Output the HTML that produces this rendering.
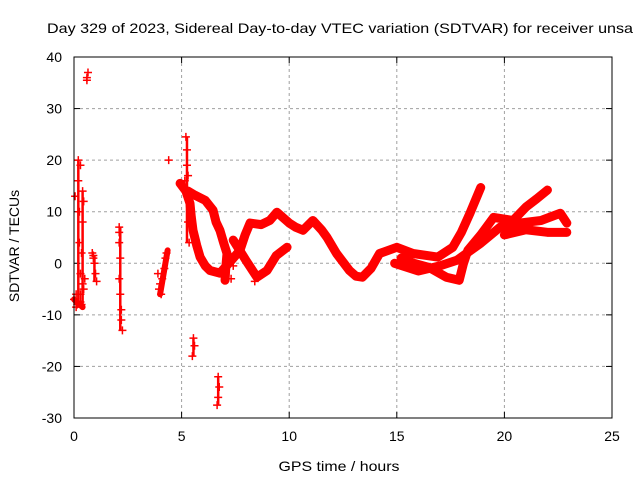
<!DOCTYPE html>
<html><head><meta charset="utf-8"><style>
body{margin:0;background:#fff}
svg text{font-family:"Liberation Sans",sans-serif;font-size:14px;fill:#000}
</style></head><body>
<svg id="c" width="640" height="480" xmlns="http://www.w3.org/2000/svg">
<rect width="640" height="480" fill="#fff"/>
<text x="340" y="33" text-anchor="middle" textLength="586" lengthAdjust="spacingAndGlyphs">Day 329 of 2023, Sidereal Day-to-day VTEC variation (SDTVAR) for receiver unsa</text>
<text x="339" y="471" text-anchor="middle" textLength="121" lengthAdjust="spacingAndGlyphs">GPS time / hours</text>
<text transform="translate(19,246) rotate(-90)" text-anchor="middle">SDTVAR / TECUs</text>
<g id="grid"></g><g id="marks"></g>
<rect x="74" y="57" width="538" height="361" fill="none" stroke="#000" stroke-width="1"/>
</svg>
<script>
const xTicks=[0,5,10,15,20,25];
const yTicks=[-30,-20,-10,0,10,20,30,40];
// continuous tracks [hour, value]
const track1=[[5.3,14],[5.62,13.2],[6.1,12.2],[6.46,10.3],[6.6,8],[6.78,6.4],[6.95,4],[7.11,1.9],[7.05,-1],[7.02,-3.3]];
const track2=[[4.93,15.5],[5.2,14],[5.39,11.6],[5.45,9],[5.53,6.4],[5.7,3.5],[5.86,1.2],[6.1,-0.5],[6.32,-1.4],[6.78,-1.9]];
const track3=[[6.78,-1.9],[7.3,0.5],[7.71,2.5],[7.95,5.5],[8.18,7.8],[8.7,7.5],[9.1,8.3],[9.43,9.9],[10.0,7.8],[10.3,7],[10.64,6.4],[11.1,8.3],[11.5,6.5],[11.76,5.0],[12.2,1.9],[12.8,-1.4],[13.1,-2.5],[13.4,-2.7],[13.8,-1],[14.2,1.9],[15.0,3.1],[15.75,1.9],[16.9,1.2],[17.6,3.1],[18.0,6],[18.4,9.7],[18.9,14.7]];
const track4=[[15.2,1.0],[15.8,0],[16.5,-0.8],[17.3,-2.7],[17.9,-3.3],[18.1,0],[18.3,2.5],[18.9,5.5],[19.5,8.9],[20.4,8.3],[21.0,10.9],[21.5,12.5],[22.0,14.2]];
const track5=[[14.9,0],[16.0,-1.5],[17.0,-0.5],[17.8,0.6],[18.9,3.9],[19.8,7.0],[20.7,7.8],[21.7,8.3],[22.6,9.7],[22.9,7.8]];
const track6=[[7.4,4.5],[8.0,0.5],[8.5,-2.7],[8.97,-1.4],[9.4,1.5],[9.9,3.1]];
const track7=[[20.0,5.5],[21.0,6.5],[22.0,6.0],[22.9,6.0]];
const tracks=[track1,track2,track3,track4,track5,track6,track7];
// scattered marker clusters [hour, value]
const scatter=[[0.05,13],[0.1,-6],[0.15,-8],[0.2,20],[0.2,16],[0.25,10],[0.25,4],[0.3,-2],[0.3,-6],[0.35,-8],[0.3,19],[0.4,14],[0.4,8],[0.35,2],[0.4,-4],[0.45,12],[0.0,-7],[0.1,-8.5],[0.3,-7.5],[0.45,-5],[0.5,-3],[0.6,36],[0.65,37],[0.6,35.5],[0.85,2],[0.9,1.5],[0.95,0],[1.0,-2],[1.05,-3.5],[0.9,1],[2.1,7],[2.1,6],[2.1,4],[2.15,1],[2.1,-3],[2.15,-6],[2.2,-9],[2.2,-11],[2.25,-13],[3.9,-2],[4.0,-4],[4.05,-6],[3.95,-5],[4.1,-3],[4.2,-1],[4.25,1],[4.3,2],[4.4,20],[5.15,16],[5.2,24.5],[5.25,22],[5.25,19],[5.3,17],[5.3,8],[5.35,4],[5.55,-14.5],[5.6,-16],[5.5,-18],[6.7,-22],[6.75,-24],[6.7,-26],[6.65,-27.5],[7.3,-3],[7.4,-0.5],[8.4,-3.5],[8.45,-2]];
const X=h=>74+h*538/25, Y=v=>418-(v+30)*361/70;
const NS="http://www.w3.org/2000/svg";
const grid=document.getElementById('grid'), marks=document.getElementById('marks');
function el(t,a,p){const e=document.createElementNS(NS,t);for(const k in a)e.setAttribute(k,a[k]);p.appendChild(e);return e;}
xTicks.forEach(t=>{const x=X(t);
 if(t>0&&t<25){const g=el('line',{x1:x,y1:57,x2:x,y2:418,stroke:'#a0a0a0','stroke-dasharray':'3,3'},grid);
 
 }
 el('line',{x1:x,y1:418,x2:x,y2:412,stroke:'#000'},grid);el('line',{x1:x,y1:57,x2:x,y2:63,stroke:'#000'},grid);
 const tx=el('text',{x:x,y:441,'text-anchor':'middle'},grid);tx.textContent=t;
 
 });
yTicks.forEach(t=>{const y=Y(t);
 if(t>-30&&t<40){const g=el('line',{x1:74,y1:y,x2:612,y2:y,stroke:'#a0a0a0','stroke-dasharray':'3,3'},grid);
 
 }
 el('line',{x1:74,y1:y,x2:80,y2:y,stroke:'#000'},grid);el('line',{x1:612,y1:y,x2:606,y2:y,stroke:'#000'},grid);
 const tx=el('text',{x:62,y:y+5,'text-anchor':'end'},grid);tx.textContent=t;
 
 });
tracks.forEach(tr=>{const p=el('polyline',{points:tr.map(d=>X(d[0])+','+Y(d[1])).join(' '),fill:'none',stroke:'#f00','stroke-width':9,'stroke-linejoin':'round','stroke-linecap':'round'},marks);
 
 });
function plus(h,v){const x=X(h),y=Y(v);const g=el('path',{d:`M${x-4},${y}h8M${x},${y-4}v8`,stroke:'#f00','stroke-width':1.5},marks);
 
 }
scatter.forEach(d=>plus(d[0],d[1]));
// dense cluster columns [hour, bottom value, top value]
const columns=[[0.2,-8,20],[0.4,-8,14],[2.15,-13,7],[5.25,4,24.5],[0.95,-3.5,1.5],[6.7,-27.5,-22],[5.55,-18,-14.5]];
columns.forEach(c=>{const l=el('line',{x1:X(c[0]),y1:Y(c[1]),x2:X(c[0]),y2:Y(c[2]),stroke:'#f00','stroke-width':2.5},marks);
 
 });
// diagonal clusters [h1,v1,h2,v2]
const diag=[[4.0,-6,4.35,2.5],[0.0,-7,0.4,-8.5]];
diag.forEach(c=>{const l=el('line',{x1:X(c[0]),y1:Y(c[1]),x2:X(c[2]),y2:Y(c[3]),stroke:'#f00','stroke-width':6,'stroke-linecap':'round'},marks);
 
 });
</script>
</body></html>
